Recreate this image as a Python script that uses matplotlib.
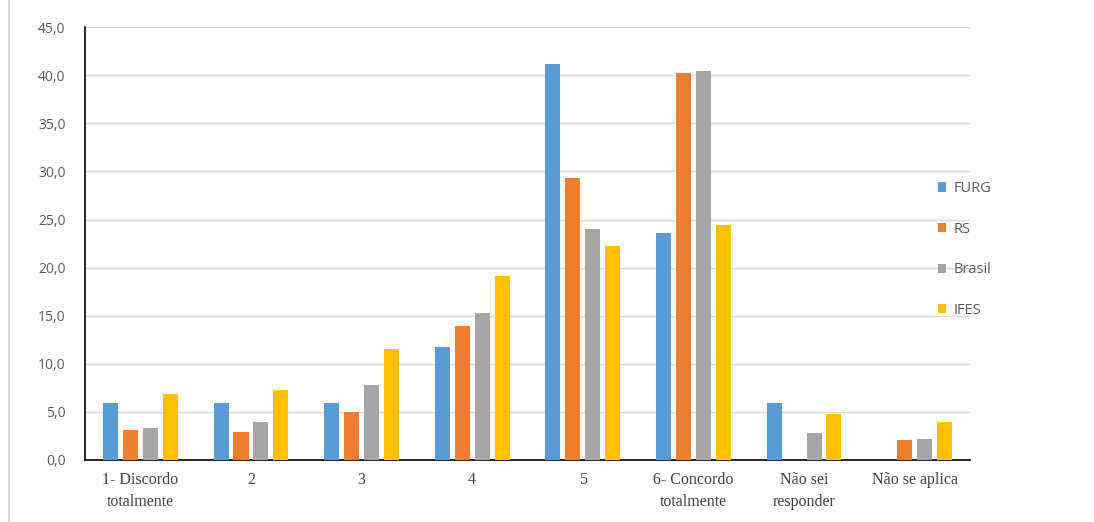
import numpy as np
import matplotlib.pyplot as plt
from matplotlib.lines import Line2D
from matplotlib.ticker import FuncFormatter

categories = ["1- Discordo\ntotalmente", "2", "3", "4", "5",
              "6- Concordo\ntotalmente", "Não sei\nresponder", "Não se aplica"]
series = ["FURG", "RS", "Brasil", "IFES"]
furg = [5.9, 5.9, 5.9, 11.8, 41.2, 23.6, 5.9, 0.0]
rs = [3.1, 2.9, 5.0, 13.9, 29.3, 40.2, 0.0, 2.1]
brasil = [3.3, 4.0, 7.8, 15.3, 24.0, 40.5, 2.8, 2.2]
ifes = [6.9, 7.3, 11.5, 19.1, 22.3, 24.4, 4.8, 4.0]
colors = ["#5b9bd5", "#ed7d31", "#a5a5a5", "#ffc000"]

fig = plt.figure(figsize=(10.94, 5.22), dpi=100)
ax = fig.add_axes([0.0777, 0.1188, 0.809, 0.829])

x = np.arange(len(categories))
width = 0.136
step = 0.18
for i, (vals, name) in enumerate(zip([furg, rs, brasil, ifes], series)):
    ax.bar(x + (i - 1.5) * step, vals, width, color=colors[i], label=name, zorder=3)

ax.set_xlim(-0.5, len(categories) - 0.5)
ax.set_ylim(0, 45)
ax.set_yticks(np.arange(0, 46, 5))
ax.yaxis.set_major_formatter(FuncFormatter(lambda v, p: f"{v:.1f}".replace(".", ",")))
ax.grid(axis="y", color="#d9d9d9", linewidth=1, zorder=0)
ax.set_axisbelow(True)

for s in ["top", "right"]:
    ax.spines[s].set_visible(False)
ax.spines["left"].set_color("black")
ax.spines["bottom"].set_color("black")
ax.spines["left"].set_linewidth(1.2)
ax.spines["bottom"].set_linewidth(1.2)

ax.set_xticks(x)
ax.set_xticklabels(categories, family="Liberation Serif", fontsize=11.5,
                   color="#404040", linespacing=1.45)
ax.tick_params(axis="x", length=0, pad=9)
ax.tick_params(axis="y", length=0, pad=14, labelcolor="#595959", labelsize=10)
for lbl in ax.get_yticklabels():
    lbl.set_family("Open Sans")

fig.legend(loc="center left", bbox_to_anchor=(0.845, 0.522), frameon=False,
           labelcolor="#595959", handlelength=0.6, handleheight=0.6,
           handletextpad=0.5, labelspacing=1.75, prop={"family": "Open Sans", "size": 10.5})

# thin gray line at the left edge, as in the source image
fig.lines.append(Line2D([0.008, 0.008], [0.0, 1.0], transform=fig.transFigure,
                        color="#d9d9d9", linewidth=1.5))

fig.savefig("out.png", dpi=100)
